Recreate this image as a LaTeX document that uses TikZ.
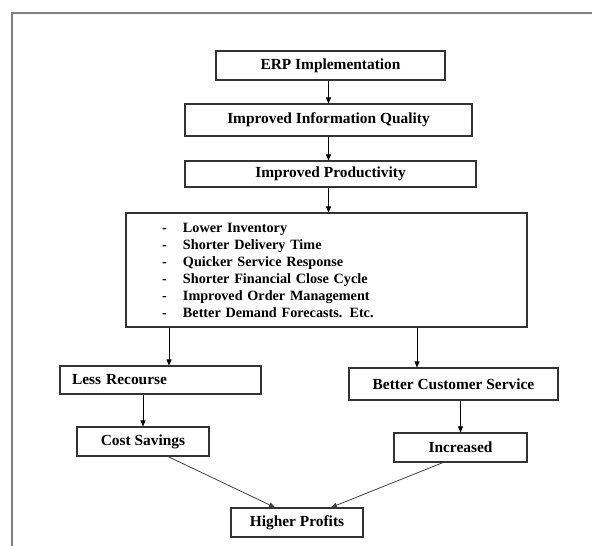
\documentclass[tikz,border=0pt]{standalone}
\usepackage{fontspec}
\setmainfont{Liberation Serif}
\usetikzlibrary{arrows.meta}
\newcommand{\litem}[1]{\makebox[21pt][l]{-}#1}

\begin{document}
\begin{tikzpicture}[x=1pt,y=-1pt,
  box/.style={draw=black!80,line width=1.1pt,inner sep=0pt,
    font=\fontsize{15.4}{18}\selectfont\bfseries},
  arr/.style={draw=black,line width=0.8pt,-{Triangle[length=6pt,width=5pt]}},
  link/.style={draw=black!75,line width=0.8pt,-{Triangle[length=6pt,width=5pt]}}]
  \useasboundingbox (0,0) rectangle (592,546);
  % frame
  \draw[gray,line width=1.5pt] (12,546) -- (12,13) -- (592,13);
  \node[box,minimum width=229pt,minimum height=29pt] (erp) at (330.5,65.5) {ERP Implementation};
  \node[box,minimum width=287pt,minimum height=32pt] (iiq) at (328.5,120) {Improved Information Quality};
  \node[box,minimum width=291pt,minimum height=26pt] (ip) at (330.5,174) {Improved Productivity};
  \node[box,minimum height=114pt,text width=329pt,inner xsep=36pt,align=left,
    font=\fontsize{14.2}{17}\selectfont\bfseries] (big) at (326.5,270)
    {\litem{Lower Inventory}\\
     \litem{Shorter Delivery Time}\\
     \litem{Quicker Service Response}\\
     \litem{Shorter Financial Close Cycle}\\
     \litem{Improved Order Management}\\
     \litem{Better Demand Forecasts. Etc.}};
  \node[box,minimum height=28pt,text width=177pt,inner xsep=12pt,align=left] (lr) at (160.5,380) {Less Recourse};
  \node[box,minimum width=209pt,minimum height=32pt] (bcs) at (453.5,384) {Better Customer Service};
  \node[box,minimum width=132pt,minimum height=29pt] (cs) at (143,441.5) {Cost Savings};
  \node[box,minimum width=133pt,minimum height=29pt] (inc) at (460.5,447.5) {Increased};
  \node[box,minimum width=132pt,minimum height=29pt] (hp) at (297,522.5) {Higher Profits};
  % arrows
  \draw[arr] (erp.south -| iiq.north) -- (iiq.north);
  \draw[arr] (iiq.south) -- (iiq.south |- ip.north);
  \draw[arr] (iiq.south |- ip.south) -- (iiq.south |- big.north);
  \draw[arr] ([xshift=8.5pt]lr.north |- big.south) -- ([xshift=8.5pt]lr.north);
  \draw[arr] ([xshift=-36.5pt]bcs.north |- big.south) -- ([xshift=-36.5pt]bcs.north);
  \draw[arr] (cs.north |- lr.south) -- (cs.north);
  \draw[arr] (inc.north |- bcs.south) -- (inc.north);
  \draw[link] ([xshift=25pt]cs.south) -- ([xshift=-22pt]hp.north);
  \draw[link] ([xshift=-17.5pt]inc.south) -- ([xshift=34pt]hp.north);
\end{tikzpicture}
\end{document}
